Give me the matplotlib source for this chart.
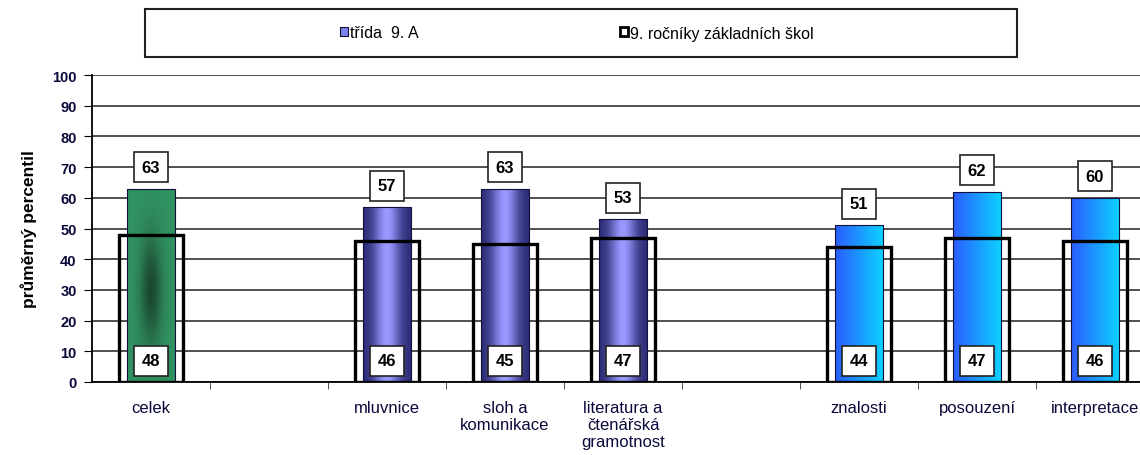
import matplotlib.pyplot as plt
import numpy as np
from matplotlib.patches import Rectangle, Patch

plt.rcParams['font.family'] = ['Liberation Sans', 'DejaVu Sans']

# Values
categories = ['celek', '', 'mluvnice', 'sloh a\nkomunikace', 'literatura a\nčtenářská\ngramotnost',
              '', 'znalosti', 'posouzení', 'interpretace']
trida = [63, None, 57, 63, 53, None, 51, 62, 60]
rocniky = [48, None, 46, 45, 47, None, 44, 47, 46]
groups = ['green', None, 'purple', 'purple', 'purple', None, 'blue', 'blue', 'blue']
yticks = list(range(0, 101, 10))
legend_labels = ['třída  9. A', '9. ročníky základních škol']

navy = '#0a0a3a'

fig = plt.figure(figsize=(11.4, 4.56), dpi=100)
ax = fig.add_axes([92 / 1140, 1 - 383 / 456, 1062 / 1140, 307 / 456])

x = np.arange(len(categories))
ax.set_xlim(-0.5, len(categories) - 0.5)
ax.set_ylim(0, 100)

# gridlines
ax.set_yticks(yticks)
ax.yaxis.grid(True, color='#333333', linewidth=1.2)
ax.set_axisbelow(True)


def gradient_img(kind, n=200):
    u = np.linspace(-1, 1, n)
    v = np.linspace(-1, 1, n)
    U, V = np.meshgrid(u, v)
    if kind == 'green':
        base = np.array([0.19, 0.57, 0.38])
        dark = np.array([0.11, 0.28, 0.19])
        w = np.exp(-(U / 0.45) ** 2 - ((V + 0.05) / 0.55) ** 2)
    elif kind == 'purple':
        base = np.array([0.16, 0.16, 0.45])
        dark = np.array([0.60, 0.60, 1.00])
        w = np.exp(-(U / 0.55) ** 2) * np.ones_like(V)
    else:
        base = np.array([0.17, 0.36, 1.00])
        dark = np.array([0.05, 0.82, 1.00])
        w = (U + 1) / 2 * np.ones_like(V)
    return base[None, None, :] * (1 - w[..., None]) + dark[None, None, :] * w[..., None]


bar_w = 0.40
out_w = 0.54
for i, (t, r, g) in enumerate(zip(trida, rocniky, groups)):
    if t is None:
        continue
    bars = ax.bar(x[i], t, width=bar_w, color='none', edgecolor='#10103a', linewidth=0.8, zorder=3)
    p = bars[0]
    img = ax.imshow(gradient_img(g), extent=[x[i] - bar_w / 2, x[i] + bar_w / 2, 0, t],
                    aspect='auto', origin='lower', zorder=2)
    img.set_clip_path(p)
    ax.bar(x[i], r, width=out_w, fill=False, edgecolor='black', linewidth=2.4, zorder=4)
    box = dict(boxstyle='square,pad=0.45', facecolor='white', edgecolor='#222222', linewidth=1.2)
    ax.text(x[i], t + 7, str(t), ha='center', va='center', fontsize=12, fontweight='bold',
            color='black', bbox=box, zorder=6)
    ax.text(x[i], 7, str(r), ha='center', va='center', fontsize=12, fontweight='bold',
            color='black', bbox=box, zorder=6)

ax.set_xticks(x)
ax.set_xticklabels(categories, fontsize=12, color=navy, linespacing=1.15)
ax.tick_params(axis='x', length=0, pad=13)
ax.set_xticks(np.arange(0.5, len(categories) - 0.5), minor=True)
ax.tick_params(axis='x', which='minor', length=5, direction='out', color='#333333')
ax.tick_params(axis='y', length=6, direction='out', labelsize=10.5, colors='black', pad=5)
for lbl in ax.get_yticklabels():
    lbl.set_fontweight('bold')
    lbl.set_color(navy)

ax.set_ylabel('průměrný percentil', fontsize=12.5, fontweight='bold', color='black', labelpad=11)

for s in ['top', 'right']:
    ax.spines[s].set_visible(False)
ax.spines['left'].set_color('black')
ax.spines['bottom'].set_color('black')
ax.spines['left'].set_linewidth(1.3)
ax.spines['bottom'].set_linewidth(1.3)

# legend box
fig.patches.append(Rectangle((145 / 1140, 1 - 58 / 456), 872 / 1140, 48 / 456, transform=fig.transFigure,
                             facecolor='white', edgecolor='#222222', linewidth=1.5))
handles = [Patch(facecolor='#7f7fef', edgecolor='#10103a', linewidth=0.8),
           Patch(facecolor='white', edgecolor='black', linewidth=2.0)]
for h, lab, xpos in zip(handles, legend_labels, [340, 620]):
    fig.legend([h], [lab], loc='center left', bbox_to_anchor=(xpos / 1140, 1 - 34 / 456),
               frameon=False, fontsize=11.5, borderpad=0, borderaxespad=0,
               handlelength=0.5, handleheight=0.5, handletextpad=0.15)

fig.savefig('out.png', dpi=100)
